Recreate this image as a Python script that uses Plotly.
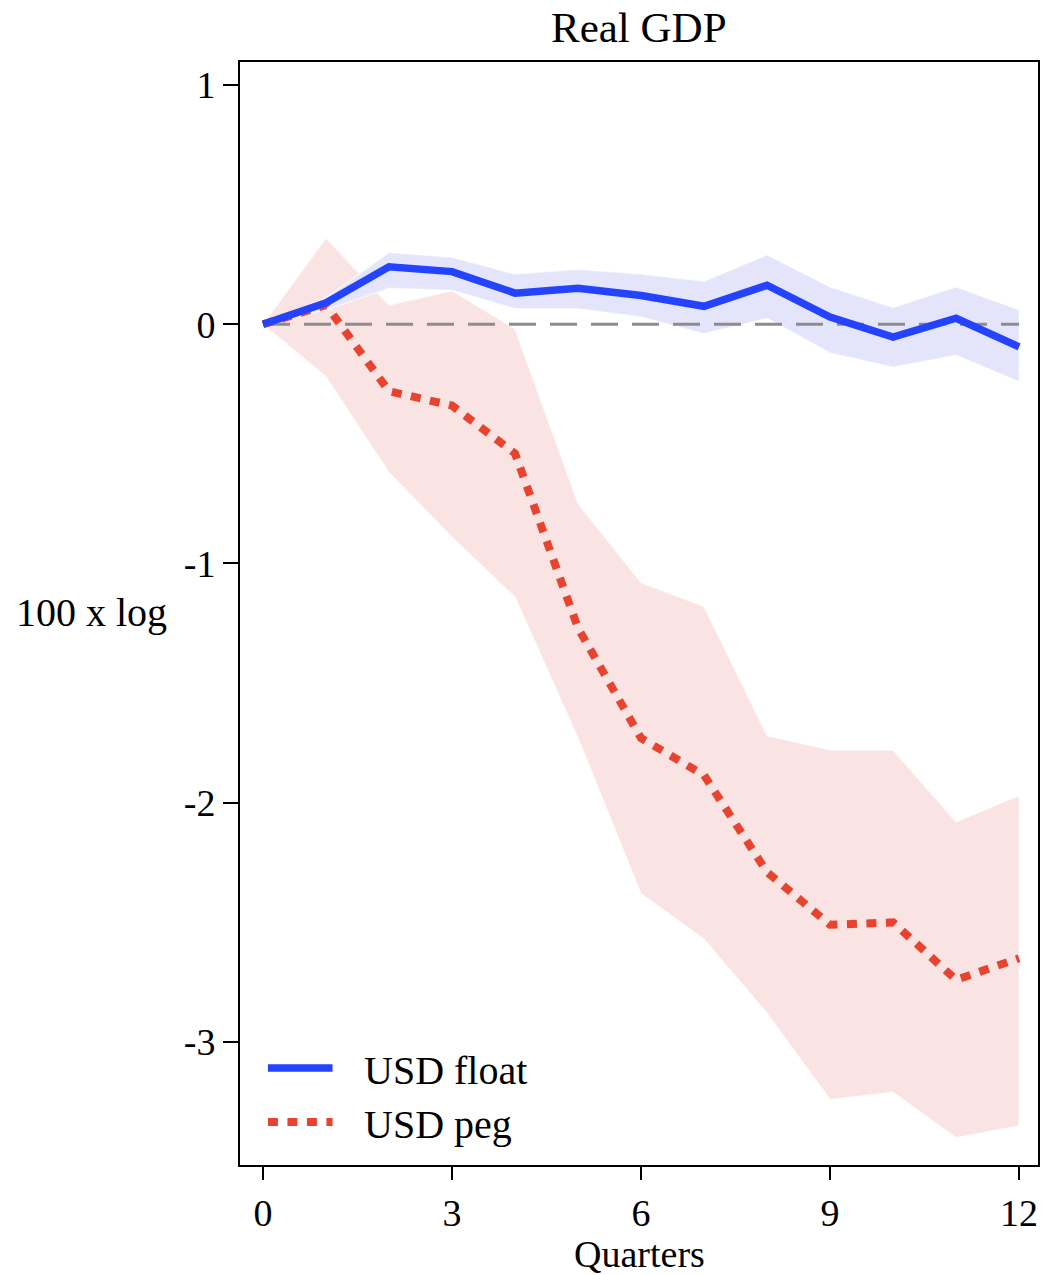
import plotly.graph_objects as go

# Impulse responses of real GDP (100 x log) by quarter
quarters = list(range(13))

float_mean = [0.0, 0.09, 0.24, 0.22, 0.13, 0.15, 0.12, 0.075, 0.163, 0.03, -0.054, 0.025, -0.095]
float_upper = [0.0, 0.11, 0.30, 0.28, 0.21, 0.23, 0.21, 0.18, 0.29, 0.156, 0.07, 0.156, 0.06]
float_lower = [0.0, 0.06, 0.15, 0.142, 0.065, 0.065, 0.03, -0.04, 0.025, -0.12, -0.18, -0.13, -0.24]

peg_mean = [0.0, 0.08, -0.28, -0.34, -0.54, -1.27, -1.73, -1.885, -2.29, -2.51, -2.50, -2.74, -2.65]
peg_upper = [0.0, 0.36, 0.08, 0.14, -0.02, -0.75, -1.08, -1.18, -1.72, -1.78, -1.78, -2.08, -1.97]
peg_lower = [0.0, -0.22, -0.62, -0.89, -1.14, -1.73, -2.38, -2.57, -2.88, -3.24, -3.21, -3.40, -3.35]

y_ticks = [1, 0, -1, -2, -3]
y_tick_labels = ["1", "0", "-1", "-2", "-3"]
x_ticks = [0, 3, 6, 9, 12]

BLUE = "#2443ff"
RED = "#e8432f"
BLUE_BAND = "#e4e5fb"
RED_BAND = "#f9e3e3"
FONT = "Liberation Serif"
PEG_DASH = "10px,9.5px"

fig = go.Figure()

# Confidence bands
fig.add_trace(go.Scatter(
    x=quarters + quarters[::-1], y=peg_upper + peg_lower[::-1],
    fill="toself", fillcolor=RED_BAND, line=dict(color="rgba(255,255,255,0.6)", width=1.5),
    mode="lines", showlegend=False, hoverinfo="skip"))
fig.add_trace(go.Scatter(
    x=quarters + quarters[::-1], y=float_upper + float_lower[::-1],
    fill="toself", fillcolor=BLUE_BAND, line=dict(color="rgba(255,255,255,0.6)", width=1.5),
    mode="lines", showlegend=False, hoverinfo="skip"))

# Zero reference line
fig.add_trace(go.Scatter(
    x=[quarters[0], quarters[-1]], y=[0, 0], mode="lines",
    line=dict(color="#8c8c8c", width=3, dash="27px,14px"),
    showlegend=False, hoverinfo="skip"))

# Point estimates
fig.add_trace(go.Scatter(
    x=quarters, y=peg_mean, mode="lines", name="USD peg",
    line=dict(color=RED, width=8, dash=PEG_DASH), showlegend=False))
fig.add_trace(go.Scatter(
    x=quarters, y=float_mean, mode="lines", name="USD float",
    line=dict(color=BLUE, width=7.5), showlegend=False))

# Legend drawn inside the bottom-left of the plot area
legend_items = [("USD float", BLUE, "solid", 7.5, 0.0879), ("USD peg", RED, PEG_DASH, 8, 0.039)]
for label, color, dash, width, yy in legend_items:
    fig.add_shape(type="line", xref="paper", yref="paper",
                  x0=0.035, x1=0.116, y0=yy, y1=yy,
                  line=dict(color=color, width=width, dash=dash))
    fig.add_annotation(text=label, xref="paper", yref="paper", x=0.1525, y=yy - 0.002,
                       xanchor="left", yanchor="middle", showarrow=False,
                       font=dict(family=FONT, size=40, color="black"))

# Titles
fig.add_annotation(text="Real GDP", xref="paper", yref="paper", x=0.5, y=1.031,
                   xanchor="center", yanchor="middle", showarrow=False,
                   font=dict(family=FONT, size=43, color="black"))
fig.add_annotation(text="Quarters", xref="paper", yref="paper", x=0.5, y=-0.081,
                   xanchor="center", yanchor="middle", showarrow=False,
                   font=dict(family=FONT, size=38, color="black"))
fig.add_annotation(text="100 x log", xref="paper", yref="paper", x=-0.186, y=0.501,
                   xanchor="center", yanchor="middle", showarrow=False,
                   font=dict(family=FONT, size=40, color="black"))

fig.update_layout(
    width=1047, height=1275,
    margin=dict(l=240, r=7, t=62, b=110),
    paper_bgcolor="white", plot_bgcolor="white",
    font=dict(family=FONT, size=38, color="black"),
    xaxis=dict(range=[-0.365, 12.3], tickmode="array", tickvals=x_ticks,
               ticks="outside", ticklen=13, tickwidth=1.5, tickcolor="black",
               showgrid=False, zeroline=False, showline=True, linecolor="black",
               linewidth=2, mirror=True, tickfont=dict(family=FONT, size=38)),
    yaxis=dict(range=[-3.514, 1.096], tickmode="array", tickvals=y_ticks,
               ticktext=y_tick_labels,
               ticks="outside", ticklen=15, tickwidth=1.5, tickcolor="black",
               showgrid=False, zeroline=False, showline=True, linecolor="black",
               linewidth=2, mirror=True, tickfont=dict(family=FONT, size=38)),
)

fig.write_html("out.html")
